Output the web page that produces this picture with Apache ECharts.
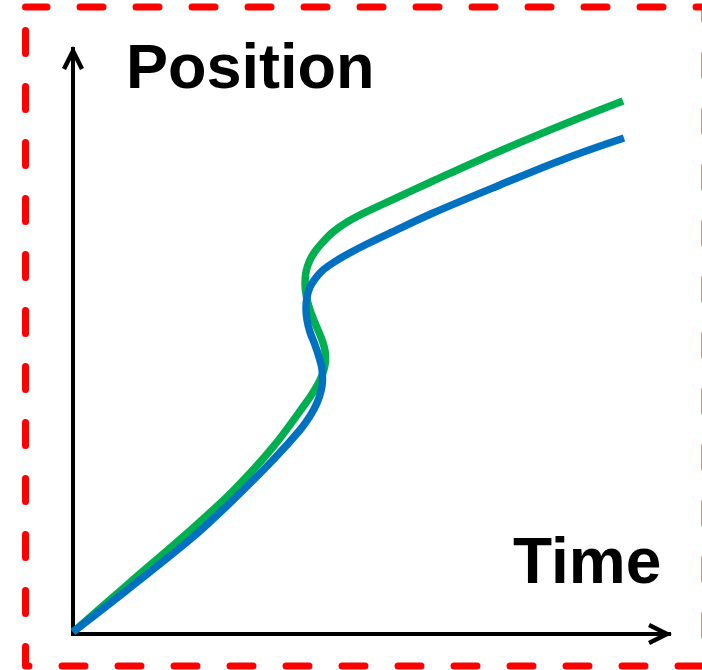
<!DOCTYPE html>
<html>
<head>
<meta charset="utf-8">
<script src="https://cdn.jsdelivr.net/npm/echarts/dist/echarts.min.js"></script>
<style>
html,body{margin:0;padding:0;background:#fff;}
#chart{width:702px;height:670px;}
</style>
</head>
<body>
<div id="chart"></div>
<script>
// Axis titles
const yTitle = 'Position';
const xTitle = 'Time';

// Green curve: [time, position]
const greenData = [
  [0,2],[54,49],[120,106],[160,143],[200,187],[235,234],[240,241.5],[245,250],
  [249,258.5],[251.8,268],[252.6,277],[251.2,287],[247.5,298],[242,311],[237,324],
  [233.5,337],[232,350],[233,362],[236.5,373],[242,382.5],[249,391],[260,402],
  [275,412.5],[295,423],[320,434.5],[360,453],[427,483],[494,511],[550,533]
];

// Blue curve: [time, position]
const blueData = [
  [0,2],[54,44],[120,97],[160,134],[200,174],[227,204],[237,218],[244,231],
  [248,243],[249.5,254],[249,265],[246,277],[242,289],[237,302],[234,314],
  [233,326],[234,337],[237,347],[242,355],[249,363],[259,370.5],[273,379],
  [293,389.5],[318,401.5],[360,421],[427,449],[494,476],[551,496]
];

const chevron = 'path://M11,0 L22,21.94 L18,23.9 L11,9.84 L4,23.9 L0,21.94 Z';

const axisCommon = {
  type: 'value',
  min: 0,
  axisLine: {
    show: true,
    onZero: false,
    symbol: ['none', chevron],
    symbolSize: [22, 24],
    symbolOffset: [0, -9],
    lineStyle: { color: '#000', width: 4, cap: 'square' }
  },
  axisTick: { show: false },
  axisLabel: { show: false },
  splitLine: { show: false }
};

const chart = echarts.init(document.getElementById('chart'), null, { renderer: 'canvas' });
chart.setOption({
  animation: false,
  backgroundColor: '#fff',
  grid: { left: 73, top: 49, right: 33, bottom: 36, containLabel: false },
  xAxis: Object.assign({}, axisCommon, { max: 596 }),
  yAxis: Object.assign({}, axisCommon, { max: 585 }),
  graphic: [
    {
      type: 'polyline',
      silent: true,
      z: 100,
      shape: { points: [[25.5,7],[25.5,666],[705,666],[705,7],[25.5,7]] },
      style: {
        fill: null, stroke: '#FF0000', lineWidth: 7,
        lineDash: [23, 33], lineDashOffset: 32.5,
        lineCap: 'round', lineJoin: 'round'
      }
    },
    {
      type: 'text', silent: true, z: 100,
      style: {
        text: yTitle, x: 126, y: 71,
        fill: '#000', font: 'bold 63px "Liberation Sans", Arial, sans-serif',
        textAlign: 'left', textVerticalAlign: 'middle', verticalAlign: 'middle'
      }
    },
    {
      type: 'text', silent: true, z: 100,
      style: {
        text: xTitle, x: 513, y: 565,
        fill: '#000', font: 'bold 64px "Liberation Sans", Arial, sans-serif',
        textAlign: 'left', textVerticalAlign: 'middle', verticalAlign: 'middle'
      }
    }
  ],
  series: [
    {
      type: 'line', data: greenData, showSymbol: false, smooth: 0.35,
      lineStyle: { color: '#00B050', width: 7.5, cap: 'butt' }, z: 2
    },
    {
      type: 'line', data: blueData, showSymbol: false, smooth: 0.35,
      lineStyle: { color: '#0070C0', width: 7.5, cap: 'butt' }, z: 3
    }
  ]
});
</script>
</body>
</html>
